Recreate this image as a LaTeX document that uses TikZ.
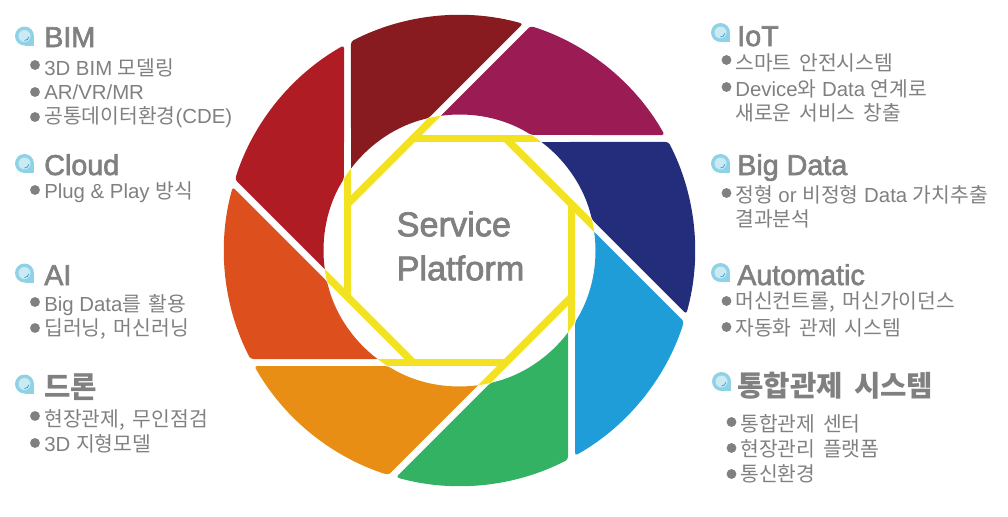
\documentclass[tikz,border=0pt]{standalone}
\usepackage{fontspec}
\setmainfont{Liberation Sans}
\newfontfamily\krfont[WordSpace=1.7]{Noto Sans CJK KR}
\newfontfamily\headfont[FakeBold=2.2]{Liberation Sans}
\newcommand{\kr}[1]{{\krfont #1}}
\definecolor{txtgray}{HTML}{808080}
\definecolor{iconblue}{HTML}{8FD2E6}
\definecolor{iconlight}{HTML}{CBEAF3}
\definecolor{rimyellow}{HTML}{F3E222}
\definecolor{colmaroon}{HTML}{881B20}
\definecolor{colpurple}{HTML}{9B1B55}
\definecolor{colnavy}{HTML}{242D7C}
\definecolor{colblue}{HTML}{1F9DD9}
\definecolor{colgreen}{HTML}{34B263}
\definecolor{colorange}{HTML}{E88E15}
\definecolor{colvermil}{HTML}{DD4F1D}
\definecolor{colred}{HTML}{AF1C23}
\tikzset{
  headtxt/.style={anchor=base west,inner sep=0pt,text=txtgray,font=\fontsize{20.4}{22}\headfont},
  krhead/.style={headtxt,font=\fontsize{20.4}{22}\krfont\bfseries},
  itemtxt/.style={anchor=base west,inner sep=0pt,text=txtgray,font=\fontsize{14.5}{16}\selectfont},
  dotmark/.style={circle,fill=txtgray,inner sep=0pt,minimum size=7pt},
  pics/bubble/.style={code={
    \fill[iconblue] (0,0) circle (9.5);
    \fill[iconblue] (0,-9.5) rectangle (9.5,0);
    \fill[iconlight] (0,0) circle (6);
    \draw[colblue,line width=0.5pt] (0,-4.5) arc[start angle=270,end angle=350,radius=4.5];
  }}
}
\begin{document}
\begin{tikzpicture}[x=0.025cm,y=0.025cm]
\useasboundingbox (0,0) rectangle (1008,516);
% ring of blades
\begin{scope}[shift={(459.5,265.5)}]
\foreach \ang/\col in {0/colmaroon,-45/colpurple,-90/colnavy,-135/colblue,-180/colgreen,-225/colorange,-270/colvermil,-315/colred}{
  \fill[\col,rotate=\ang,rounded corners=2pt] (117.44:235.5) arc[start angle=117.44,end angle=74.37,radius=235.5] -- (103.14:136) [sharp corners] arc[start angle=103.14,end angle=142.92,radius=136] [rounded corners=2pt] -- cycle;
}
% yellow octagon
\begin{scope}
\clip (0,0) circle (136);
\foreach \ang in {0,-45,...,-315}{
  \draw[rimyellow,line width=7.4*0.711pt,rotate=\ang] (-112,-46.4) -- (-112,140);
}
\end{scope}
\end{scope}
\node[anchor=center,text=txtgray,align=left,font=\fontsize{24.4}{31.3}\headfont] (title) at (460.5,270) {Service\\Platform};
% left column
\pic at (24.5,480) {bubble};
\node[headtxt] (bim) at (44,469) {BIM};
\node[dotmark] (d1) at (35,451) {};
\node[itemtxt] (bim1) at (44,441) {3D BIM \kr{모델링}};
\node[dotmark] (d2) at (35,424) {};
\node[itemtxt] (bim2) at (44,417) {AR/VR/MR};
\node[dotmark] (d3) at (35,399) {};
\node[itemtxt] (bim3) at (44,393) {\kr{공통데이터환경}(CDE)};
\pic at (24.5,352.5) {bubble};
\node[headtxt] (cloud) at (44,341) {Cloud};
\node[dotmark] (d4) at (35,326) {};
\node[itemtxt] (cloud1) at (44,318) {Plug \& Play \kr{방식}};
\pic at (24.5,243) {bubble};
\node[headtxt] (ai) at (44,231) {AI};
\node[dotmark] (d5) at (35,214) {};
\node[itemtxt] (ai1) at (44,205) {Big Data\kr{를 활용}};
\node[dotmark] (d6) at (35,188) {};
\node[itemtxt] (ai2) at (44,181) {\kr{딥러닝, 머신러닝}};
\pic at (24.5,132) {bubble};
\node[krhead] (drone) at (44,119) {드론};
\node[dotmark] (d7) at (35,100) {};
\node[itemtxt] (drone1) at (44,90) {\kr{현장관제, 무인점검}};
\node[dotmark] (d8) at (35,73) {};
\node[itemtxt] (drone2) at (44,65) {3D \kr{지형모델}};
% right column
\pic at (720.5,483.5) {bubble};
\node[headtxt] (iot) at (737,470) {IoT};
\node[dotmark] (d9) at (726.5,456) {};
\node[itemtxt] (iot1) at (735,446) {\kr{스마트 안전시스템}};
\node[dotmark] (d10) at (726.5,429) {};
\node[itemtxt] (iot2) at (735,420) {Device\kr{와} Data \kr{연계로}};
\node[itemtxt] (iot3) at (735,396) {\kr{새로운 서비스 창출}};
\pic at (720.5,352.5) {bubble};
\node[headtxt] (big) at (737,341) {Big Data};
\node[dotmark] (d11) at (726.5,323) {};
\node[itemtxt] (big1) at (735,314) {\kr{정형} or \kr{비정형} Data \kr{가치추출}};
\node[itemtxt] (big2) at (735,290) {\kr{결과분석}};
\pic at (720.5,243.5) {bubble};
\node[headtxt] (auto) at (737,231) {Automatic};
\node[dotmark] (d12) at (726.5,215) {};
\node[itemtxt] (auto1) at (735,208) {\kr{머신컨트롤, 머신가이던스}};
\node[dotmark] (d13) at (726.5,189) {};
\node[itemtxt] (auto2) at (735,181) {\kr{자동화 관제 시스템}};
\pic at (721.5,134.5) {bubble};
\node[krhead] (tong) at (737,120) {통합관제 시스템};
\node[dotmark] (d14) at (731.5,94) {};
\node[itemtxt] (tong1) at (740,85) {\kr{통합관제 센터}};
\node[dotmark] (d15) at (731.5,68) {};
\node[itemtxt] (tong2) at (740,60) {\kr{현장관리 플랫폼}};
\node[dotmark] (d16) at (731.5,42) {};
\node[itemtxt] (tong3) at (740,35) {\kr{통신환경}};
\end{tikzpicture}
\end{document}
